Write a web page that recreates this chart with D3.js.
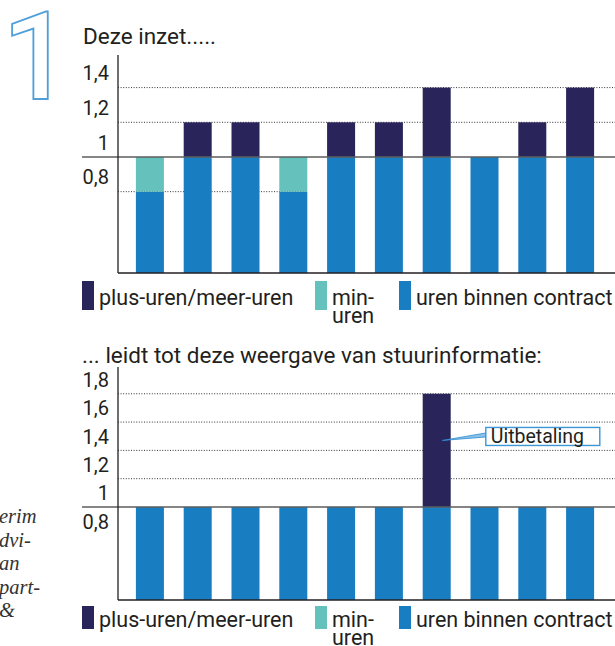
<!DOCTYPE html>
<html>
<head>
<meta charset="utf-8">
<script src="https://cdn.jsdelivr.net/npm/d3@7"></script>
<style>
  body { margin: 0; background: #fff; }
  svg { display: block; font-family: Roboto, sans-serif; }
</style>
</head>
<body>
<div id="chart"></div>
<script>
// weeks (no labels shown on the x axis)
const weeks = ['w1', 'w2', 'w3', 'w4', 'w5', 'w6', 'w7', 'w8', 'w9', 'w10'];

// top panel: "Deze inzet....."
const contractTop = [0.8, 1, 1, 0.8, 1, 1, 1, 1, 1, 1];
const minTop = [0.2, 0, 0, 0.2, 0, 0, 0, 0, 0, 0];
const plusTop = [0, 0.2, 0.2, 0, 0.2, 0.2, 0.4, 0, 0.2, 0.4];
const ticksTop = [0.8, 1, 1.2, 1.4];

// bottom panel: stuurinformatie
const contractBottom = [1, 1, 1, 1, 1, 1, 1, 1, 1, 1];
const minBottom = [0, 0, 0, 0, 0, 0, 0, 0, 0, 0];
const plusBottom = [0, 0, 0, 0, 0, 0, 0.8, 0, 0, 0];
const ticksBottom = [0.8, 1, 1.2, 1.4, 1.6, 1.8];

const seriesKeys = ['contract', 'min', 'plus'];
const legendLabels = [['plus-uren/meer-uren'], ['min-', 'uren'], ['uren binnen contract']];
const legendKeys = ['plus', 'min', 'contract'];
const titles = ['Deze inzet.....', '... leidt tot deze weergave van stuurinformatie:'];
const calloutText = 'Uitbetaling';
const calloutValue = 1.47;
const sideText = ['erim', 'dvi-', 'an', 'part-', '&'];

const colors = {plus: '#29255b', min: '#64c1bc', contract: '#187ec1'};
const ink = '#231f20';

const W = 615, H = 646;
const svg = d3.select('#chart').append('svg')
  .attr('width', W)
  .attr('height', H);

const x = d3.scaleBand()
  .domain(weeks)
  .range([126, 604])
  .paddingInner(0.414)
  .paddingOuter(0.207);

// big outlined "1"
svg.append('text')
  .attr('x', 2)
  .attr('y', 99)
  .attr('font-size', 122)
  .attr('font-weight', 500)
  .attr('fill', '#fff')
  .attr('stroke', '#4f9fd8')
  .attr('stroke-width', 1.8)
  .text('1');

// cut-off italic text from neighbouring column
svg.append('g')
  .selectAll('text')
  .data(sideText)
  .enter().append('text')
  .attr('x', -1)
  .attr('y', (d, i) => 523 + i * 23.5)
  .attr('font-family', '"Liberation Serif", serif')
  .attr('font-style', 'italic')
  .attr('font-size', 20.5)
  .attr('fill', '#333')
  .text(d => d);

function buildPanel(opts) {
  const y = d3.scaleLinear()
    .domain(opts.domain)
    .range(opts.range)
    .clamp(true);

  const rows = weeks.map((w, i) => ({
    week: w,
    contract: opts.contract[i],
    min: opts.min[i],
    plus: opts.plus[i]
  }));
  const stacked = d3.stack().keys(seriesKeys)(rows);

  const g = svg.append('g');

  // title
  g.append('text')
    .attr('x', opts.titleX)
    .attr('y', opts.titleY)
    .attr('font-size', 22.5)
    .attr('fill', ink)
    .text(opts.title);

  // dotted gridlines
  g.append('g')
    .selectAll('line')
    .data(opts.dotted)
    .enter().append('line')
    .attr('x1', 118)
    .attr('x2', d => d === 0.8 ? x(weeks[3]) + x.bandwidth() : W)
    .attr('y1', d => y(d))
    .attr('y2', d => y(d))
    .attr('stroke', '#333')
    .attr('stroke-width', 1)
    .attr('stroke-dasharray', '1,1.6');

  // bars
  g.append('g')
    .selectAll('g')
    .data(stacked)
    .enter().append('g')
    .attr('fill', d => colors[d.key])
    .selectAll('rect')
    .data(d => d.filter(s => s[1] - s[0] > 0))
    .enter().append('rect')
    .attr('x', d => x(d.data.week))
    .attr('y', d => y(d[1]))
    .attr('height', d => y(d[0]) - y(d[1]))
    .attr('width', x.bandwidth());

  // solid line at 1
  g.append('line')
    .attr('x1', 82)
    .attr('x2', W)
    .attr('y1', y(1))
    .attr('y2', y(1))
    .attr('stroke', '#5c5c5c')
    .attr('stroke-width', 1.5);

  // axes
  g.append('line')
    .attr('x1', 118).attr('x2', 118)
    .attr('y1', opts.range[1]).attr('y2', opts.range[0])
    .attr('stroke', ink).attr('stroke-width', 1.3);
  g.append('line')
    .attr('x1', 118).attr('x2', W)
    .attr('y1', opts.range[0]).attr('y2', opts.range[0])
    .attr('stroke', ink).attr('stroke-width', 1.3);

  // tick labels sit in the band above their value
  g.append('g')
    .selectAll('text')
    .data(opts.ticks)
    .enter().append('text')
    .attr('x', 109)
    .attr('y', d => y(d + 0.1) + opts.labelShift)
    .attr('text-anchor', 'end')
    .attr('font-size', 20)
    .attr('fill', ink)
    .text(d => d3.format('.1~f')(d).replace('.', ','));

  // legend
  const legendX = [82, 315, 399];
  const lg = g.append('g')
    .selectAll('g')
    .data(legendKeys)
    .enter().append('g');
  lg.append('rect')
    .attr('x', (d, i) => legendX[i])
    .attr('y', opts.legendY - opts.swatchUp)
    .attr('width', 12)
    .attr('height', opts.swatchH)
    .attr('fill', d => colors[d]);
  lg.append('text')
    .attr('x', (d, i) => legendX[i] + 17)
    .attr('y', opts.legendY)
    .attr('font-size', 21.5)
    .attr('fill', ink)
    .selectAll('tspan')
    .data((d, i) => legendLabels[i])
    .enter().append('tspan')
    .attr('x', function () { return this.parentNode.getAttribute('x'); })
    .attr('dy', (d, j) => j === 0 ? 0 : 18)
    .text(d => d);

  return y;
}

buildPanel({
  domain: [0.331, 1.588], range: [273, 55],
  contract: contractTop, min: minTop, plus: plusTop,
  ticks: ticksTop, dotted: [0.8, 1.2, 1.4],
  title: titles[0], titleX: 83, titleY: 44,
  labelShift: 10, legendY: 305, swatchUp: 24, swatchH: 29
});

const y2 = buildPanel({
  domain: [0.343, 1.989], range: [600, 367],
  contract: contractBottom, min: minBottom, plus: plusBottom,
  ticks: ticksBottom, dotted: [1.2, 1.4, 1.6, 1.8],
  title: titles[1], titleX: 82, titleY: 363,
  labelShift: 7.5, legendY: 627, swatchUp: 21, swatchH: 23
});

// callout on the payout bar
const peak = plusBottom.indexOf(d3.max(plusBottom));
const ax = x(weeks[peak]) + x.bandwidth() * 0.7;
const ay = y2(calloutValue);
const bx = ax + 43.5, by = ay - 13;
svg.append('path')
  .attr('d', `M${ax},${ay}L${bx},${by + 5.5}L${bx},${by + 9.5}Z`)
  .attr('fill', '#8cc3ea')
  .attr('stroke', '#2a8ad0')
  .attr('stroke-width', 0.8);
svg.append('rect')
  .attr('x', bx)
  .attr('y', by)
  .attr('width', 114)
  .attr('height', 18)
  .attr('fill', '#fff')
  .attr('stroke', '#3c96d6')
  .attr('stroke-width', 1.4);
svg.append('text')
  .attr('x', bx + 5)
  .attr('y', by + 16)
  .attr('font-size', 19.5)
  .attr('fill', ink)
  .text(calloutText);
</script>
</body>
</html>
